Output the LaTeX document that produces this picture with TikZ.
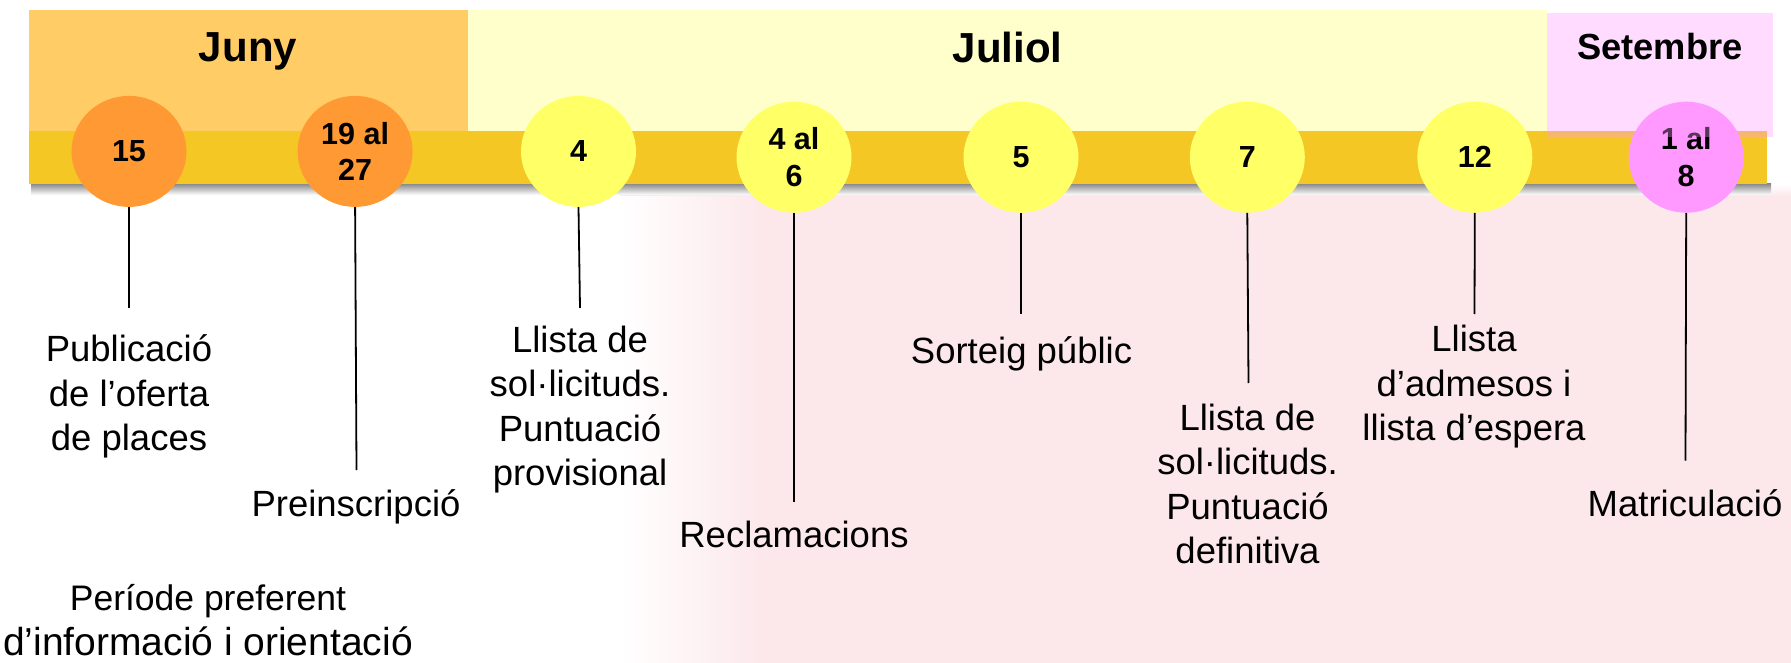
\documentclass[tikz,border=0pt]{standalone}
\usepackage{fontspec}
\setmainfont{Liberation Sans}
\usetikzlibrary{shapes.geometric}
\definecolor{junybox}{HTML}{FFCC66}
\definecolor{juliolbox}{HTML}{FFFFCC}
\definecolor{setpink}{HTML}{FF99FF}
\definecolor{barcol}{HTML}{F4C724}
\definecolor{orangec}{HTML}{FF9933}
\definecolor{yellowc}{HTML}{FFFF66}
\definecolor{pinkc}{HTML}{FF99FF}
\definecolor{wmpink}{HTML}{FCE8EB}
\newcommand\mlines[1]{\vtop{\halign{\hfil##\hfil\cr#1\crcr}}}
\begin{document}
\begin{tikzpicture}[x=1pt,y=-1pt,
  monthtext/.style={font=\fontsize{42}{48}\selectfont\bfseries, anchor=base, inner sep=0pt},
  dot/.style={ellipse, minimum width=115pt, minimum height=111pt, inner sep=0pt, align=center,
              font=\fontsize{30.5}{36.7}\selectfont\bfseries},
  lbl/.style={anchor=base, inner sep=0pt, font=\fontsize{36.5}{44.5}\selectfont},
  conn/.style={line width=1.8pt, black}]
\useasboundingbox (0,0) rectangle (1791,663);
\fill[white] (0,0) rectangle (1791,663);
% faint watermark tint
\shade[left color=white, right color=wmpink] (620,196) rectangle (760,663);
\fill[wmpink] (760,196) rectangle (1791,663);
\shade[top color=white, bottom color=wmpink] (620,184) rectangle (1791,196);
% month boxes
\fill[junybox] (28.7,10) rectangle (467.7,130.7);
\fill[juliolbox] (467.7,10) rectangle (1546.8,130.7);
% bar shadow and bar
\shade[top color=black!45, bottom color=white] (31,184) rectangle (1771,195);
\fill[barcol] (28.7,130.7) rectangle (1767.3,184);
% date circles
\node[dot, fill=orangec] (c15) at (129,151.4) {15};
\node[dot, fill=orangec] (c19) at (355.1,151.4) {19 al\\27};
\node[dot, fill=yellowc] (c4) at (578.5,151.4) {4};
\node[dot, fill=yellowc] (c46) at (794,157.2) {4 al\\6};
\node[dot, fill=yellowc] (c5) at (1021,157.2) {5};
\node[dot, fill=yellowc] (c7) at (1247.3,157.2) {7};
\node[dot, fill=yellowc] (c12) at (1474.8,157.2) {12};
\node[dot, fill=pinkc] (c18) at (1686.2,157.2) {1 al\\8};
% Setembre box (translucent, over bar and circle)
\fill[setpink, fill opacity=0.35] (1546.8,13.3) rectangle (1772.9,136.7);
% month names
\node[monthtext] (mjuny) at (248,61.7) {Juny};
\node[monthtext] (mjuliol) at (1007.5,62.7) {Juliol};
\node[monthtext, font=\fontsize{36.3}{42}\selectfont\bfseries] (mset) at (1660,59.3) {Setembre};
% connector ends
\coordinate (e15) at (129,308);
\coordinate (e19) at (356.5,470);
\coordinate (e4) at (580,308);
\coordinate (e46) at (794,502);
\coordinate (e5) at (1021,314);
\coordinate (e7) at (1248.5,383);
\coordinate (e12) at (1474.5,314);
\coordinate (e18) at (1685.5,460.7);
\draw[conn] (c15.south) -- (e15);
\draw[conn] (c19.south) -- (e19);
\draw[conn] (c4.south) -- (e4);
\draw[conn] (c46.south) -- (e46);
\draw[conn] (c5.south) -- (e5);
\draw[conn] (c7.south) -- (e7);
\draw[conn] (c12.south) -- (e12);
\draw[conn] (c18.south) -- (e18);
% labels
\node[lbl] (l15) at (129,361.7) {\mlines{Publicació\cr de l’oferta\cr de places}};
\node[lbl] (l19) at (356,516.7) {Preinscripció};
\node[lbl] (l4) at (580,352) {\mlines{Llista de\cr sol·licituds.\cr Puntuació\cr provisional}};
\node[lbl] (l46) at (794,547.7) {Reclamacions};
\node[lbl] (l5) at (1021.5,363) {Sorteig públic};
\node[lbl] (l7) at (1247.5,430) {\mlines{Llista de\cr sol·licituds.\cr Puntuació\cr definitiva}};
\node[lbl] (l12) at (1474,351.7) {\mlines{Llista\cr d’admesos i\cr llista d’espera}};
\node[lbl] (l18) at (1685,516.7) {Matriculació};
\node[lbl, font=\fontsize{36}{45}\selectfont] (lper) at (208,610)
  {\mlines{{\fontsize{35.5}{45}\selectfont Període preferent}\cr
           {\fontsize{39}{45}\selectfont d’informació i orientació}}};
\end{tikzpicture}
\end{document}
